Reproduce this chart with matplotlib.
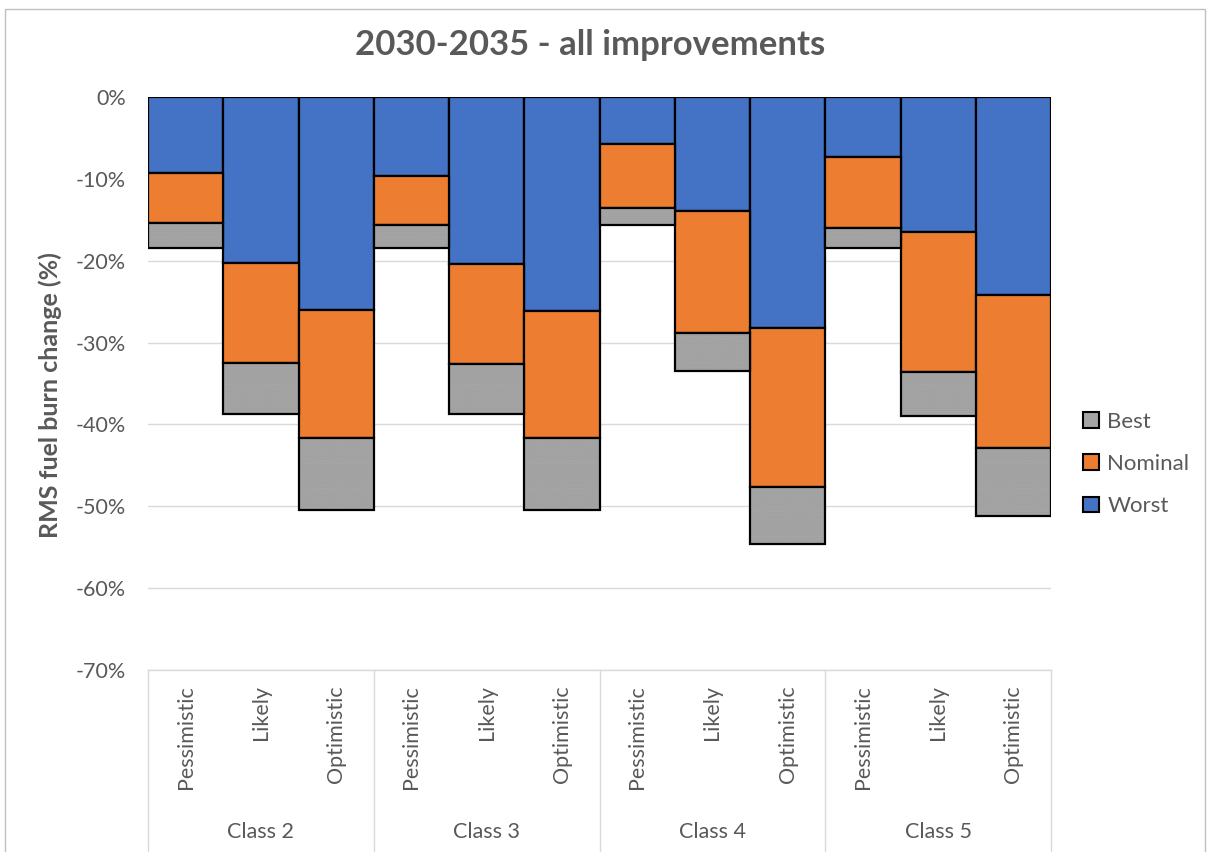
import matplotlib
matplotlib.use("Agg")
import matplotlib.pyplot as plt
from matplotlib.patches import Patch, Rectangle
from matplotlib.lines import Line2D
import matplotlib.transforms as mtransforms

plt.rcParams['font.family'] = ['Lato', 'DejaVu Sans']

# data (percent change)
groups = ["Class 2", "Class 3", "Class 4", "Class 5"]
scenarios = ["Pessimistic", "Likely", "Optimistic"]
worst = [-9.3, -20.3, -26.0, -9.7, -20.4, -26.1, -5.7, -13.9, -28.2, -7.3, -16.5, -24.2]
nominal = [-15.4, -32.5, -41.6, -15.6, -32.6, -41.6, -13.6, -28.8, -47.7, -16.0, -33.6, -42.9]
best = [-18.4, -38.7, -50.5, -18.5, -38.7, -50.5, -15.6, -33.5, -54.6, -18.5, -39.0, -51.2]

blue = '#4472c4'
orange = '#ed7d31'
grey = '#a5a5a5'
txt = '#595959'
gridc = '#d9d9d9'

fig = plt.figure(figsize=(12.08, 8.52), dpi=100)
ax = fig.add_axes([148/1208, 1 - 670/852, (1051-148)/1208, (670-97)/852])

x = list(range(len(worst)))
nom_h = [n - w for n, w in zip(nominal, worst)]
best_h = [b - n for b, n in zip(best, nominal)]

ax.bar(x, worst, width=1.0, color=blue, edgecolor='black', linewidth=1.6, zorder=3)
ax.bar(x, nom_h, bottom=worst, width=1.0, color=orange, edgecolor='black', linewidth=1.6, zorder=3)
ax.bar(x, best_h, bottom=nominal, width=1.0, color=grey, linewidth=0, zorder=3)
plt.rcParams['hatch.linewidth'] = 0.4
ax.bar(x, best_h, bottom=nominal, width=1.0, color='none', edgecolor='#9a9a9a',
       hatch='........', linewidth=0, zorder=3.5)
ax.bar(x, best_h, bottom=nominal, width=1.0, color='none', edgecolor='black', linewidth=1.6, zorder=4)

ax.set_xlim(-0.5, len(worst) - 0.5)
ax.set_ylim(-70, 0)
yt = list(range(-70, 1, 10))
ax.set_yticks(yt)
ax.set_yticklabels([f"{v}%" for v in yt], fontsize=15.5, color=txt)
ax.tick_params(axis='y', length=0, pad=16)
ax.set_xticks([])
ax.grid(axis='y', color=gridc, linewidth=1.0, zorder=0)
for s in ['left', 'right', 'top']:
    ax.spines[s].set_visible(False)
ax.spines['bottom'].set_color(gridc)
ax.spines['bottom'].set_linewidth(1.0)

# category labels
trans = mtransforms.blended_transform_factory(ax.transData, ax.transAxes)
for i in x:
    ax.text(i, -0.027, scenarios[i % 3], rotation=90, ha='center', va='top',
            fontsize=15.5, color=txt, transform=trans)
for g, name in enumerate(groups):
    ax.text(g * 3 + 1, -0.283, name, ha='center', va='center', fontsize=15.5,
            color=txt, transform=trans)
for b in range(len(groups) + 1):
    ax.add_line(Line2D([b * 3 - 0.5, b * 3 - 0.5], [0, -0.35], color=gridc,
                       linewidth=1.0, transform=trans, clip_on=False))

fig.suptitle("2030-2035 - all improvements", x=590/1208, y=1 - 45/852, va='center',
             fontsize=25, fontweight='bold', color=txt)
fig.text(50/1208, 1 - 395/852, "RMS fuel burn change (%)", rotation=90, ha='center',
         va='center', fontsize=18, fontweight='bold', color=txt)

handles = [Patch(facecolor=grey, edgecolor='black', linewidth=1.5),
           Patch(facecolor=orange, edgecolor='black', linewidth=1.5),
           Patch(facecolor=blue, edgecolor='black', linewidth=1.5)]
leg = fig.legend(handles, ["Best", "Nominal", "Worst"], loc='center left',
                 bbox_to_anchor=(1063/1208, 1 - 464/852), frameon=False, fontsize=16,
                 handlelength=0.7, handleheight=0.7, handletextpad=0.4, labelspacing=1.0)
for t in leg.get_texts():
    t.set_color(txt)

fig.add_artist(Rectangle((5/1208, -0.01), 1200/1208, 1.0, transform=fig.transFigure,
                         fill=False, edgecolor='#bfbfbf', linewidth=1.0))

fig.savefig("out.png", dpi=100)
